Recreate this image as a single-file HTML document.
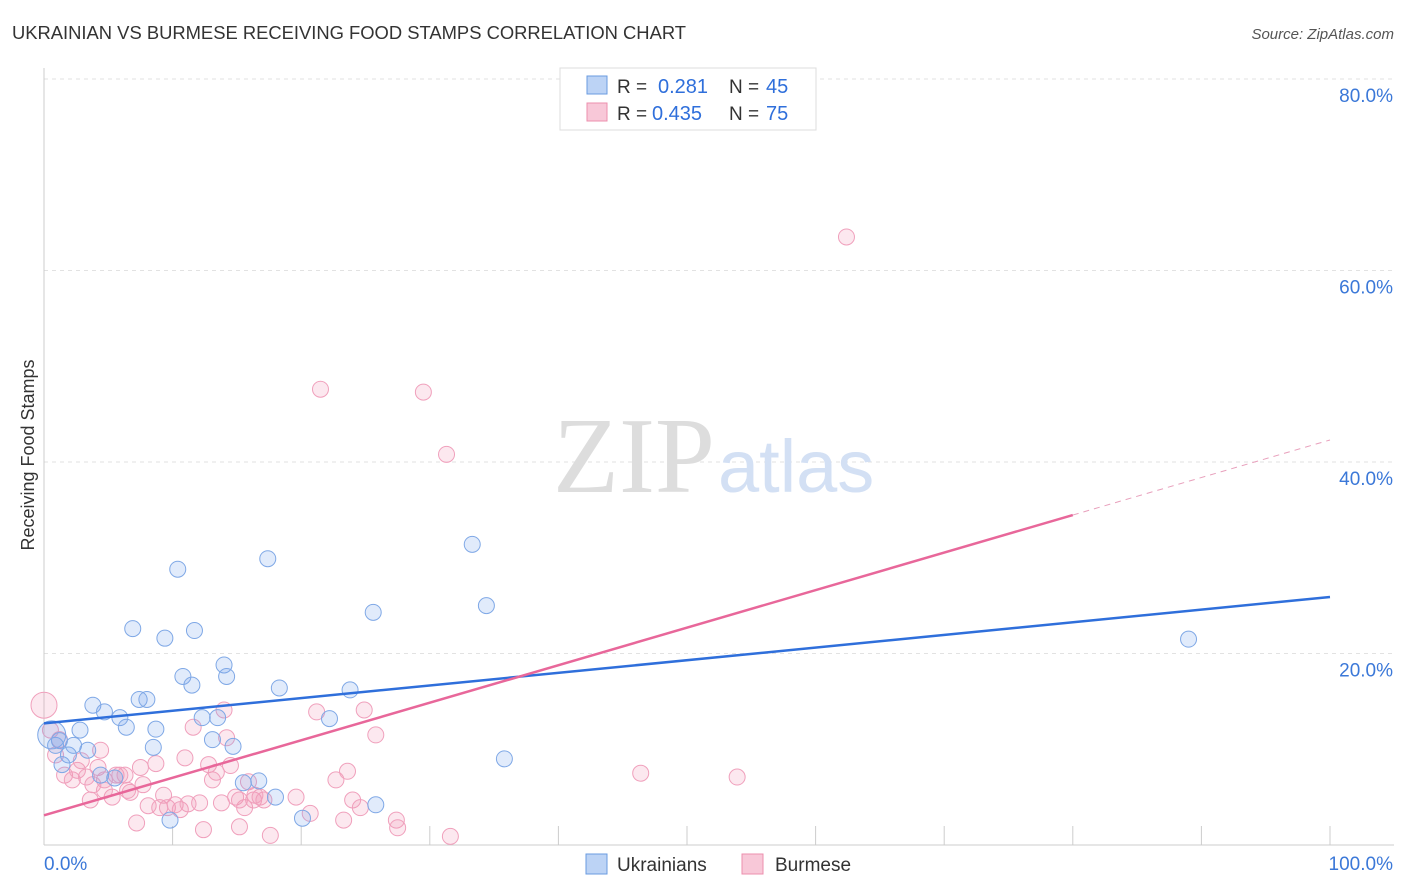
<!DOCTYPE html>
<html><head><meta charset="utf-8"><style>
body{margin:0;background:#fff;font-family:"Liberation Sans",sans-serif;}
svg{display:block}
</style></head><body>
<svg width="1406" height="892" xmlns="http://www.w3.org/2000/svg">
<text x="12" y="39" font-size="18.4" fill="#333" textLength="674">UKRAINIAN VS BURMESE RECEIVING FOOD STAMPS CORRELATION CHART</text>
<text x="1394" y="39" font-size="15" fill="#555" text-anchor="end" font-style="italic">Source: ZipAtlas.com</text>
<g id="grid"></g>
<g id="axes"></g>
<text x="553" y="492" font-size="108" fill="#ddd" font-family="Liberation Serif" textLength="162">ZIP</text>
<text x="718" y="492" font-size="74" fill="#d3e0f4">atlas</text>
<g id="pts"></g>
<g id="lines"></g>
<text x="34" y="455" font-size="18" fill="#333" transform="rotate(-90 34 455)" text-anchor="middle">Receiving Food Stamps</text>
<g>
<rect x="560" y="68" width="256" height="62" fill="#fff" stroke="#ddd"/>
<rect x="587" y="76" width="20" height="18" fill="#bcd3f5" stroke="#6a9be0"/>
<rect x="587" y="103" width="20" height="18" fill="#f8c8d8" stroke="#ec8fae"/>
<text x="617" y="93" font-size="19" fill="#333">R =</text>
<text x="658" y="93" font-size="20" fill="#2f6fdb">0.281</text>
<text x="729" y="93" font-size="19" fill="#333">N =</text>
<text x="766" y="93" font-size="20" fill="#2f6fdb">45</text>
<text x="617" y="120" font-size="19" fill="#333">R =</text>
<text x="652" y="120" font-size="20" fill="#2f6fdb">0.435</text>
<text x="729" y="120" font-size="19" fill="#333">N =</text>
<text x="766" y="120" font-size="20" fill="#2f6fdb">75</text>
</g>
<g>
<rect x="586" y="854" width="21" height="20" fill="#bcd3f5" stroke="#6a9be0"/>
<text x="617" y="871" font-size="19" fill="#333">Ukrainians</text>
<rect x="742" y="854" width="21" height="20" fill="#f8c8d8" stroke="#ec8fae"/>
<text x="775" y="871" font-size="19" fill="#333">Burmese</text>
</g>
</svg>
<script>
const yTicks=[20,40,60,80];
const yTickLabels=["20.0%","40.0%","60.0%","80.0%"];
const xTickLabels=["0.0%","100.0%"];
const blueX=[0.6,0.9,1.4,1.9,2.3,2.8,3.4,3.8,4.7,5.5,5.9,6.4,6.9,7.4,8.0,8.5,8.7,9.4,9.8,10.4,10.8,11.5,11.7,12.3,13.1,13.5,14.0,14.2,14.7,15.5,16.7,17.4,18.0,18.3,20.1,22.2,23.8,25.6,25.8,33.3,34.4,35.8,89.0,1.2,4.4];
const blueY=[11.5,10.4,8.4,9.4,10.4,12.0,9.9,14.6,13.9,7.0,13.3,12.3,22.6,15.2,15.2,10.2,12.1,21.6,2.6,28.8,17.6,16.7,22.4,13.3,11.0,13.3,18.8,17.6,10.3,6.5,6.7,29.9,5.0,16.4,2.8,13.2,16.2,24.3,4.2,31.4,25.0,9.0,21.5,10.9,7.3];
const pinkX=[0,0.5,0.9,1.2,1.6,2.2,2.6,2.9,3.3,3.8,4.2,4.7,5.3,5.6,6.3,6.7,7.2,7.5,7.7,8.1,8.7,9.0,9.3,9.6,10.2,10.6,10.96,11.2,11.6,12.1,12.4,12.8,13.1,13.4,13.8,14.0,14.2,14.5,14.9,15.2,15.6,15.9,16.3,16.8,17.1,17.6,19.6,20.7,21.2,21.5,22.7,23.3,23.6,24.0,24.6,24.9,25.8,27.4,27.5,29.5,31.3,31.6,46.4,53.9,62.4,4.4,5.9,3.6,6.5,16.4,15.2,4.7];
const pinkY=[14.6,12.0,9.4,11.0,7.3,6.8,7.8,8.8,7.1,6.3,8.1,6.8,5.0,7.3,7.3,5.5,2.3,8.1,6.3,4.1,8.5,3.9,5.2,3.9,4.2,3.7,9.1,4.3,12.3,4.4,1.6,8.4,6.8,7.6,4.4,14.1,11.2,8.3,5.0,1.9,3.9,6.6,4.7,5.0,4.7,1.0,5.0,3.3,13.9,47.6,6.8,2.6,7.7,4.7,3.9,14.1,11.5,2.6,1.8,47.3,40.8,0.9,7.5,7.1,63.5,9.9,7.3,4.7,5.7,5.2,4.7,5.7];
const blueLine=[12.7,25.9];
const pinkLine=[3.1,42.3];
const pinkSolidEnd=80;
const X=v=>44+v*12.86, Y=v=>845-v*9.575;
const NS="http://www.w3.org/2000/svg";
function mk(tag,attrs,parent){const e=document.createElementNS(NS,tag);for(const k in attrs)e.setAttribute(k,attrs[k]);document.getElementById(parent).appendChild(e);return e;}
yTicks.forEach((t,i)=>{
 const l=mk('line',{x1:44,x2:1394,y1:Y(t),y2:Y(t),stroke:'#e2e2e2','stroke-dasharray':'4,4'},'grid');
 
 
 const tx=mk('text',{x:1393,y:Y(t)+23,'font-size':19,fill:'#3b78d8','text-anchor':'end'},'grid');
 tx.textContent=yTickLabels[i];
 
 
});
const ax=mk('line',{x1:44,x2:44,y1:68,y2:845,stroke:'#ccc'},'axes');


const bx=mk('line',{x1:44,x2:1394,y1:845,y2:845,stroke:'#ccc'},'axes');


for(let i=1;i<=10;i++){const t=mk('line',{x1:X(i*10),x2:X(i*10),y1:826,y2:845,stroke:'#ccc'},'axes');
 
 }
const xl0=mk('text',{x:44,y:870,'font-size':19,fill:'#3b78d8'},'axes');xl0.textContent=xTickLabels[0];


const xl1=mk('text',{x:1393,y:870,'font-size':19,fill:'#3b78d8','text-anchor':'end'},'axes');xl1.textContent=xTickLabels[1];


pinkX.forEach((x,i)=>{const c=mk('circle',{cx:X(x),cy:Y(pinkY[i]),r:i==0?13:8,fill:'rgba(240,150,180,0.22)',stroke:'#f0a0bc','stroke-width':1},'pts');
 
 });
blueX.forEach((x,i)=>{const c=mk('circle',{cx:X(x),cy:Y(blueY[i]),r:i==0?14:8,fill:'rgba(120,165,235,0.22)',stroke:'#7fa8e6','stroke-width':1},'pts');
 
 });
const bl=mk('line',{x1:X(0),y1:Y(blueLine[0]),x2:X(100),y2:Y(blueLine[1]),stroke:'#2f6fdb','stroke-width':2.5},'lines');


const pm=pinkLine[0]+(pinkLine[1]-pinkLine[0])*pinkSolidEnd/100;
const pl=mk('line',{x1:X(0),y1:Y(pinkLine[0]),x2:X(pinkSolidEnd),y2:Y(pm),stroke:'#e8679a','stroke-width':2.5},'lines');


const pd=mk('line',{x1:X(pinkSolidEnd),y1:Y(pm),x2:X(100),y2:Y(pinkLine[1]),stroke:'#e8a0bc','stroke-width':1,'stroke-dasharray':'6,5'},'lines');


</script>
</body></html>
